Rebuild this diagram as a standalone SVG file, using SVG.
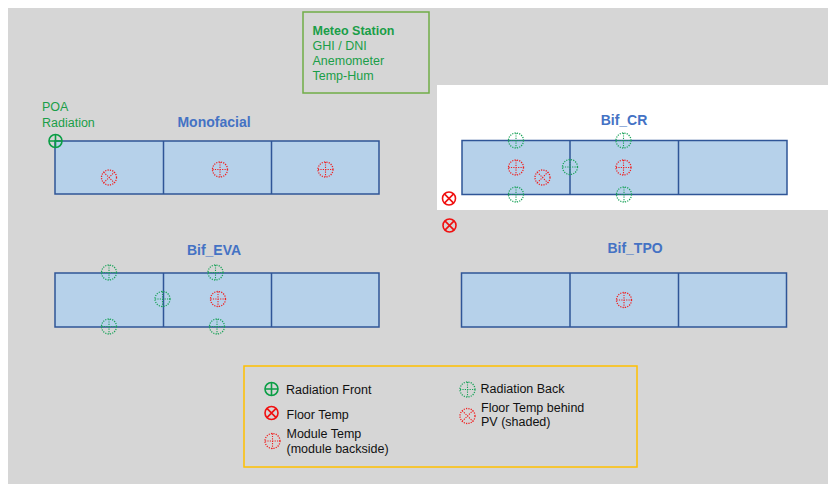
<svg xmlns="http://www.w3.org/2000/svg" width="828" height="484" viewBox="0 0 828 484">
<defs>
<style>
text{font-family:"Liberation Sans",Arial,sans-serif}
.title{font-size:14px;font-weight:bold;fill:#4472c4;text-anchor:middle}
.g{fill:#1a9e48;font-size:12.5px}
.lg{fill:#111;font-size:12.5px}
.panel{fill:#b6d1ea;stroke:#2f5597;stroke-width:1.5}
.div{stroke:#2f5597;stroke-width:1.5}
</style>
<g id="radFront">
<circle r="6.5" fill="none" stroke="#0a9e45" stroke-width="1.6"/>
<path d="M-6.5 0H6.5M0 -6.5V6.5" stroke="#0a9e45" stroke-width="1.6"/>
</g>
<g id="floorT">
<circle r="6.5" fill="none" stroke="#f01010" stroke-width="1.6"/>
<path d="M-4.6 -4.6L4.6 4.6M-4.6 4.6L4.6 -4.6" stroke="#f01010" stroke-width="1.6"/>
</g>
<g id="radBack">
<circle r="7.5" fill="none" stroke="#1aa35a" stroke-width="1.3" stroke-dasharray="1.2 1.2"/>
<path d="M-7.5 0H7.5M0 -7.5V7.5" stroke="#1aa35a" stroke-width="1.1" stroke-dasharray="1.2 1.2"/>
</g>
<g id="modT">
<circle r="7.5" fill="none" stroke="#f02020" stroke-width="1.3" stroke-dasharray="1.2 1.2"/>
<path d="M-7.5 0H7.5M0 -7.5V7.5" stroke="#f02020" stroke-width="1.1" stroke-dasharray="1.2 1.2"/>
</g>
<g id="floorShade">
<circle r="7.5" fill="none" stroke="#f02020" stroke-width="1.3" stroke-dasharray="1.2 1.2"/>
<path d="M-5.3 -5.3L5.3 5.3M-5.3 5.3L5.3 -5.3" stroke="#f02020" stroke-width="1.1" stroke-dasharray="1.2 1.2"/>
</g>
</defs>
<rect x="0" y="0" width="828" height="484" fill="#ffffff"/>
<rect x="8" y="8" width="820" height="476" fill="#d6d6d6"/>
<rect x="437" y="85" width="391" height="125" fill="#ffffff"/>

<g id="meteo">
<rect x="303" y="12" width="126" height="81" fill="none" stroke="#70ad47" stroke-width="1.5"/>
<text class="g" x="312.5" y="34.5" font-weight="bold">Meteo Station</text>
<text class="g" x="312.5" y="49.5">GHI / DNI</text>
<text class="g" x="312.5" y="64.5">Anemometer</text>
<text class="g" x="312.5" y="79.5">Temp-Hum</text>
</g>

<g id="monofacial">
<rect class="panel" x="55" y="141" width="324" height="53"/>
<path class="div" d="M163.5 141V194M271.5 141V194"/>
<text class="title" x="214" y="127">Monofacial</text>
<text class="g" x="42" y="111">POA</text>
<text class="g" x="42" y="127">Radiation</text>
<use href="#radFront" x="55.5" y="141"/>
<use href="#floorShade" x="109" y="177.5"/>
<use href="#modT" x="220" y="169.5"/>
<use href="#modT" x="325.5" y="169.5"/>
</g>

<g id="bif_cr">
<rect class="panel" x="462" y="140.5" width="325" height="54"/>
<path class="div" d="M570 140.5V194.5M678.5 140.5V194.5"/>
<text class="title" x="624" y="125">Bif_CR</text>
<use href="#radBack" x="516" y="140.5"/>
<use href="#modT" x="516" y="167.5"/>
<use href="#radBack" x="516" y="194.5"/>
<use href="#floorShade" x="542.5" y="177.5"/>
<use href="#radBack" x="570" y="167"/>
<use href="#radBack" x="623.5" y="140.5"/>
<use href="#modT" x="623.5" y="167.5"/>
<use href="#radBack" x="624" y="194.5"/>
<use href="#floorT" x="449" y="198.5"/>
<use href="#floorT" x="449.5" y="225.5"/>
</g>

<g id="bif_eva">
<rect class="panel" x="55" y="273" width="324" height="54"/>
<path class="div" d="M163.5 273V327M271.5 273V327"/>
<text class="title" x="214" y="255">Bif_EVA</text>
<use href="#radBack" x="109" y="272.5"/>
<use href="#radBack" x="215.5" y="272.5"/>
<use href="#radBack" x="162.5" y="299"/>
<use href="#modT" x="218" y="299"/>
<use href="#radBack" x="109" y="326.5"/>
<use href="#radBack" x="217" y="326.5"/>
</g>

<g id="bif_tpo">
<rect class="panel" x="461.5" y="273" width="325" height="54"/>
<path class="div" d="M570 273V327M678.5 273V327"/>
<text class="title" x="635" y="253">Bif_TPO</text>
<use href="#modT" x="624" y="300"/>
</g>

<g id="legend">
<rect x="244" y="366" width="393" height="101" fill="none" stroke="#ffc000" stroke-width="1.5"/>
<use href="#radFront" x="271.5" y="389"/>
<text class="lg" x="286" y="393.5">Radiation Front</text>
<use href="#floorT" x="271.5" y="413"/>
<text class="lg" x="286.5" y="418.5">Floor Temp</text>
<use href="#modT" x="272.5" y="441"/>
<text class="lg" x="286.5" y="437.5">Module Temp</text>
<text class="lg" x="286.5" y="452.5">(module backside)</text>
<use href="#radBack" x="467.5" y="389.5"/>
<text class="lg" x="480.5" y="392.5">Radiation Back</text>
<use href="#floorShade" x="467.5" y="416"/>
<text class="lg" x="481" y="412">Floor Temp behind</text>
<text class="lg" x="481" y="426">PV (shaded)</text>
</g>
<g id="connectors"/>
</svg>
